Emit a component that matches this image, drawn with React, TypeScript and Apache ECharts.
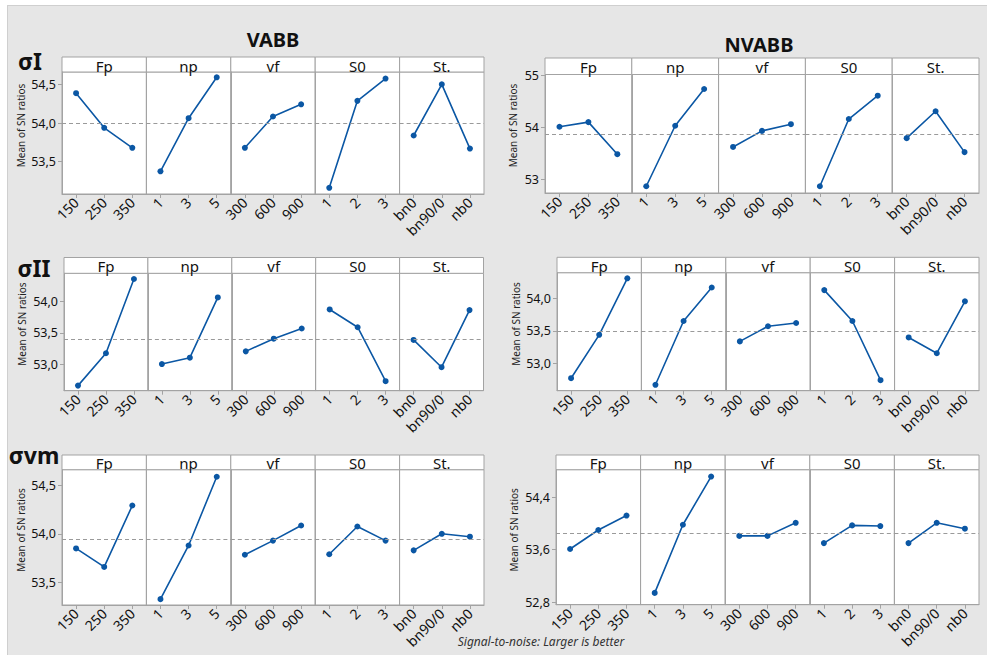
import React, { useEffect, useRef } from "react";
import * as echarts from "echarts";

// ---- categories ----
const factorNames = ["Fp", "np", "vf", "S0", "St."];
const levelsFp = ["150", "250", "350"];
const levelsNp = ["1", "3", "5"];
const levelsVf = ["300", "600", "900"];
const levelsS0 = ["1", "2", "3"];
const levelsSt = ["bn0", "bn90/0", "nb0"];
const factorLevels = [levelsFp, levelsNp, levelsVf, levelsS0, levelsSt];

// ---- mean of SN ratios (per factor: Fp, np, vf, S0, St.) ----
const vabbSigmaI = [
  [54.39, 53.94, 53.68],
  [53.375, 54.065, 54.596],
  [53.68, 54.087, 54.245],
  [53.16, 54.29, 54.58],
  [53.84, 54.505, 53.67],
];
const nvabbSigmaI = [
  [54.01, 54.1, 53.48],
  [52.86, 54.03, 54.74],
  [53.62, 53.93, 54.06],
  [52.86, 54.16, 54.61],
  [53.79, 54.31, 53.52],
];
const vabbSigmaII = [
  [52.67, 53.18, 54.35],
  [53.01, 53.11, 54.06],
  [53.21, 53.41, 53.57],
  [53.87, 53.59, 52.74],
  [53.39, 52.96, 53.86],
];
const nvabbSigmaII = [
  [52.78, 53.44, 54.3],
  [52.68, 53.65, 54.16],
  [53.34, 53.57, 53.62],
  [54.12, 53.65, 52.75],
  [53.4, 53.16, 53.95],
];
const vabbSigmaVm = [
  [53.85, 53.66, 54.29],
  [53.33, 53.88, 54.585],
  [53.785, 53.93, 54.085],
  [53.79, 54.075, 53.93],
  [53.83, 54.0, 53.97],
];
const nvabbSigmaVm = [
  [53.61, 53.9, 54.12],
  [52.94, 53.98, 54.715],
  [53.81, 53.81, 54.01],
  [53.7, 53.97, 53.96],
  [53.7, 54.01, 53.92],
];

// ---- overall means (dashed reference lines) ----
const grandMeans = [54.0, 53.86, 53.4, 53.49, 53.935, 53.855];

// ---- y tick labels ----
const ticksVabbI = [53.5, 54.0, 54.5];
const ticksNvabbI = [53, 54, 55];
const ticksVabbII = [53.0, 53.5, 54.0];
const ticksNvabbII = [53.0, 53.5, 54.0];
const ticksVabbVm = [53.5, 54.0, 54.5];
const ticksNvabbVm = [52.8, 53.6, 54.4];

const rowLabels = ["σI", "σII", "σvm"];
const columnTitles = ["VABB", "NVABB"];

// ---- layout ----
const panels = [
  { data: vabbSigmaI, ticks: ticksVabbI, dec: 1, yMin: 53.08, yMax: 54.665, left: 62, right: 484, stripTop: 57, plotTop: 72, bottom: 194, nameX: 21 },
  { data: nvabbSigmaI, ticks: ticksNvabbI, dec: 0, yMin: 52.73, yMax: 55.02, left: 545, right: 979, stripTop: 58, plotTop: 74.5, bottom: 193, nameX: 513 },
  { data: vabbSigmaII, ticks: ticksVabbII, dec: 1, yMin: 52.59, yMax: 54.44, left: 64, right: 483.5, stripTop: 257.5, plotTop: 273.3, bottom: 390.7, nameX: 22 },
  { data: nvabbSigmaII, ticks: ticksNvabbII, dec: 1, yMin: 52.59, yMax: 54.385, left: 557, right: 979, stripTop: 257.3, plotTop: 272.7, bottom: 390.7, nameX: 516 },
  { data: vabbSigmaVm, ticks: ticksVabbVm, dec: 1, yMin: 53.27, yMax: 54.657, left: 62, right: 484, stripTop: 455, plotTop: 469.7, bottom: 605, nameX: 21 },
  { data: nvabbSigmaVm, ticks: ticksNvabbVm, dec: 1, yMin: 52.76, yMax: 54.82, left: 556, right: 979, stripTop: 455, plotTop: 469.7, bottom: 604.7, nameX: 514 },
];

const FONT = "'Noto Sans', 'Open Sans', sans-serif";
const BLUE = "#0b57a4";
const BORDER = "#a3a3a3";

function buildOption() {
  const grid: any[] = [];
  const xAxis: any[] = [];
  const yAxis: any[] = [];
  const series: any[] = [];
  const graphic: any[] = [];

  panels.forEach((p, pi) => {
    const w = (p.right - p.left) / 5;
    factorNames.forEach((fname, fi) => {
      const idx = grid.length;
      const gl = p.left + fi * w;
      grid.push({
        left: gl,
        top: p.plotTop,
        width: w,
        height: p.bottom - p.plotTop,
        show: true,
        backgroundColor: "#ffffff",
        borderColor: BORDER,
        borderWidth: 1,
        containLabel: false,
        outerBoundsMode: "none",
      });
      xAxis.push({
        type: "category",
        gridIndex: idx,
        data: factorLevels[fi],
        boundaryGap: true,
        axisLine: { show: true, lineStyle: { color: BORDER } },
        axisTick: { show: true, alignWithLabel: true, length: 4, lineStyle: { color: BORDER } },
        axisLabel: { rotate: 45, interval: 0, fontSize: 14, color: "#111", margin: 6, fontFamily: FONT },
        splitLine: { show: false },
      });
      const first = fi === 0;
      yAxis.push({
        type: "value",
        gridIndex: idx,
        min: p.yMin,
        max: p.yMax,
        scale: true,
        axisLine: { show: true, lineStyle: { color: BORDER } },
        axisTick: first
          ? { show: true, length: 4, lineStyle: { color: BORDER }, customValues: p.ticks }
          : { show: false },
        axisLabel: first
          ? {
              show: true,
              fontSize: 12.5,
              color: "#111",
              margin: 6,
              fontFamily: FONT,
              customValues: p.ticks,
              formatter: (v: number) => v.toFixed(p.dec).replace(".", ","),
            }
          : { show: false },
        splitLine: { show: false },
      });
      series.push({
        type: "line",
        xAxisIndex: idx,
        yAxisIndex: idx,
        data: p.data[fi],
        symbol: "circle",
        symbolSize: 6,
        lineStyle: { color: BLUE, width: 1.6 },
        itemStyle: { color: BLUE },
        silent: true,
        markLine: {
          silent: true,
          symbol: "none",
          label: { show: false },
          lineStyle: { color: "#9a9a9a", type: [4, 3], width: 1 },
          data: [{ yAxis: grandMeans[pi] }],
        },
        z: 3,
      });
      // strip header
      graphic.push({
        type: "rect",
        shape: { x: gl, y: p.stripTop, width: w, height: p.plotTop - p.stripTop },
        style: { fill: "#ffffff", stroke: BORDER, lineWidth: 1 },
      });
      graphic.push({
        type: "text",
        x: gl + w / 2,
        y: (p.stripTop + p.plotTop) / 2 + 1,
        style: {
          text: fname,
          fontSize: 15,
          lineHeight: 15,
          fontFamily: FONT,
          fill: "#111",
          align: "center",
          verticalAlign: "middle",
        },
      });
    });
    // y axis name
    graphic.push({
      type: "text",
      x: p.nameX,
      y: (p.stripTop + p.bottom) / 2,
      rotation: Math.PI / 2,
      style: {
        text: "Mean of SN ratios",
        fontSize: 10,
        fontFamily: FONT,
        fill: "#222",
        align: "center",
        verticalAlign: "middle",
      },
    });
  });

  // column titles
  graphic.push({
    type: "text",
    x: 273,
    y: 39,
    style: { text: columnTitles[0], fontSize: 20, lineHeight: 20, fontWeight: "bold", fontFamily: FONT, fill: "#111", align: "center", verticalAlign: "middle" },
  });
  graphic.push({
    type: "text",
    x: 759,
    y: 44,
    style: { text: columnTitles[1], fontSize: 20, lineHeight: 20, fontWeight: "bold", fontFamily: FONT, fill: "#111", align: "center", verticalAlign: "middle" },
  });
  // row labels
  const rowPos = [
    [30, 61],
    [34, 268],
    [34, 455],
  ];
  rowLabels.forEach((t, i) => {
    graphic.push({
      type: "text",
      x: rowPos[i][0],
      y: rowPos[i][1],
      style: { text: t, fontSize: 23, fontWeight: "bold", fontFamily: FONT, fill: "#111", align: "center", verticalAlign: "middle" },
    });
  });
  // footer
  graphic.push({
    type: "text",
    x: 541,
    y: 641,
    style: {
      text: "Signal-to-noise: Larger is better",
      fontSize: 12,
      fontStyle: "italic",
      fontFamily: FONT,
      fill: "#333",
      align: "center",
      verticalAlign: "middle",
    },
  });

  return {
    animation: false,
    backgroundColor: "transparent",
    grid,
    xAxis,
    yAxis,
    series,
    graphic,
  };
}

export default function App() {
  const ref = useRef<HTMLDivElement>(null);
  useEffect(() => {
    if (!ref.current) return;
    const chart = echarts.init(ref.current, undefined, { renderer: "svg" });
    chart.setOption(buildOption() as any);
    return () => chart.dispose();
  }, []);
  return (
    <div style={{ position: "fixed", left: 0, top: 0, width: 987, height: 655, background: "#ffffff" }}>
      <div
        style={{
          position: "absolute",
          left: 7,
          top: 5,
          right: 0,
          bottom: 0,
          background: "#e6e6e6",
          borderLeft: "1px solid #cfcfcf",
          borderTop: "1px solid #cfcfcf",
        }}
      />
      <div ref={ref} style={{ position: "absolute", left: 0, top: 0, width: 987, height: 655 }} />
    </div>
  );
}
